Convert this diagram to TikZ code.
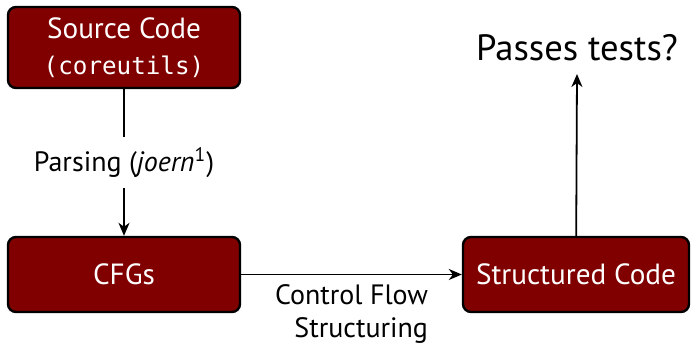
\documentclass[tikz,border=0pt]{standalone}
\usepackage{fontspec}
\setmainfont{PT Sans}
\setmonofont{DejaVu Sans Mono}[Scale=0.83]
\usetikzlibrary{arrows.meta}

\definecolor{boxred}{HTML}{800000}

\tikzset{
  stage/.style={draw=black, line width=1.2pt, fill=boxred, text=white,
    rounded corners=4pt, align=center,
    font=\fontsize{14.6}{18}\selectfont},
  flow/.style={-{Stealth[length=6.5pt,width=5.5pt,inset=2pt]}, line width=0.9pt},
  steplabel/.style={font=\fontsize{14}{16.5}\selectfont}
}

\begin{document}
\begin{tikzpicture}[x=0.5pt,y=-0.5pt]
  \useasboundingbox (0,0) rectangle (692,347);

  % Pipeline stages
  \node[stage, minimum width=116pt, minimum height=40.5pt] (src) at (124,47.5)
    {Source Code\\\texttt{(coreutils)}};
  \node[stage, minimum width=116pt, minimum height=37.5pt] (cfg) at (124,274.5) {CFGs};
  \node[stage, minimum width=113pt, minimum height=37.5pt] (struct) at (576,274.5) {Structured Code};

  % Final check
  \node[font=\fontsize{18.3}{20}\selectfont, anchor=base, inner sep=0pt] (passes) at (577,61) {Passes tests?};
  \coordinate (tested) at (577,74);

  % Arrows between stages
  \draw[flow] (src) -- node[steplabel, fill=white, inner sep=5pt] {Parsing (\textit{joern}\textsuperscript{1})} (cfg);
  \draw[flow] (cfg) -- node[steplabel, below, align=right, yshift=-1pt] {Control Flow\\Structuring} (struct);
  \draw[flow] (struct) -- (tested);

\end{tikzpicture}
\end{document}
